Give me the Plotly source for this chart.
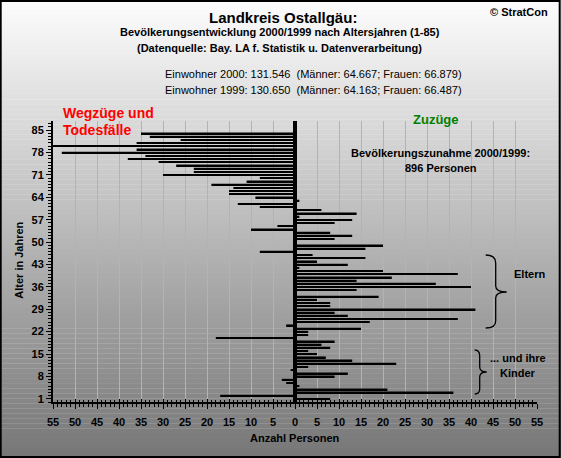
import plotly.graph_objects as go

# ---------------- data ----------------
ages = list(range(1, 86))
net_change = [
    8, -17, 36, 21, 1, -2, -3, 9, 12, -1,          # 1-10
    3, 23, 13, 7, 5, 3, 8, 6, 9, -18,              # 11-20
    3, 3, 15, -2, 17, 37, 12, 9, 41, 8,            # 21-30
    8, 5, 19, 0, 14, 40, 32, 14, 22, 37,           # 31-40
    20, 1, 12, 5, 16, 4, -8, 16, 20, 0,            # 41-50
    9, 13, 8, -10, -4, 9, 13, 1, 14, 6,            # 51-60
    -8, -13, 1, -9, -15, -15, -14, -19, -11, -8,   # 61-70
    -30, -23, -23, -27, -31, -38, -34, -53, -36, -56,  # 71-80
    -36, -26, -33, -35, 0,                         # 81-85
]
x_tick_vals = list(range(-55, 56, 5))
x_tick_text = [str(abs(v)) for v in x_tick_vals]

# ---------------- geometry helpers ----------------
W, H = 561, 458
L, R, T, B = 53.3, 537.3, 121.0, 402.0


def px(x):
    return (x - L) / (R - L)


def py(y):
    return (B - y) / (B - T)


FONT = "Liberation Sans, Arial, sans-serif"

fig = go.Figure()
fig.add_trace(go.Bar(
    x=net_change, y=ages, orientation="h",
    marker=dict(color="black", line=dict(width=0)),
    hoverinfo="x+y", showlegend=False,
))
# invisible helper trace so the overlay axis (crossing ticks) is drawn
fig.add_trace(go.Scatter(x=[None], y=[None], xaxis="x2", yaxis="y",
                         mode="markers", showlegend=False, hoverinfo="skip"))

shapes = []
# background gradient (white at top to grey at bottom)
n_bands = 92
for i in range(n_bands):
    y0 = i * H / n_bands
    y1 = (i + 1) * H / n_bands
    t = (y0 + y1) / 2 / H
    g = int(round(253 - (253 - 118) * t))
    col = f"rgb({g},{g},{g})"
    shapes.append(dict(type="rect", xref="paper", yref="paper",
                       x0=px(-2), x1=px(W + 2), y0=py(y1 + 0.3), y1=py(y0),
                       fillcolor=col, line=dict(width=0), layer="below"))
# outer border
shapes.append(dict(type="rect", xref="paper", yref="paper",
                   x0=px(1), x1=px(W - 1), y0=py(H - 1), y1=py(1),
                   line=dict(color="black", width=2), fillcolor="rgba(0,0,0,0)",
                   layer="above"))


def brace_path(pts):
    s = ""
    for cmd, coords in pts:
        s += cmd + " " + " ".join(f"{px(x):.5f},{py(y):.5f}" for x, y in coords) + " "
    return s.strip()


brace1 = brace_path([
    ("M", [(486, 255)]), ("Q", [(496, 255), (496, 263)]), ("L", [(496, 286)]),
    ("Q", [(496, 292), (507, 292)]), ("Q", [(496, 292), (496, 298)]),
    ("L", [(496, 321)]), ("Q", [(496, 328), (486, 328)]),
])
brace2 = brace_path([
    ("M", [(475, 350)]), ("Q", [(480, 350), (480, 356)]), ("L", [(480, 367)]),
    ("Q", [(480, 372), (487, 372)]), ("Q", [(480, 372), (480, 377)]),
    ("L", [(480, 389)]), ("Q", [(480, 394), (475, 394)]),
])
for p in (brace1, brace2):
    shapes.append(dict(type="path", xref="paper", yref="paper", path=p,
                       line=dict(color="black", width=1.3), layer="above"))


def ann(text, x, y, size=11, color="black", bold=True, xanchor="center",
        yanchor="middle", angle=0):
    return dict(text=text, x=px(x), y=py(y), xref="paper", yref="paper",
                showarrow=False, xanchor=xanchor, yanchor=yanchor,
                textangle=angle,
                font=dict(family=FONT, size=size, color=color,
                          weight="bold" if bold else "normal"))


annotations = [
    ann("Landkreis Ostallgäu:", 283, 17, size=15),
    ann("Bevölkerungsentwicklung 2000/1999 nach Altersjahren (1-85)", 280, 32),
    ann("(Datenquelle: Bay. LA f. Statistik u. Datenverarbeitung)", 280, 48),
    ann("Einwohner 2000: 131.546  (Männer: 64.667; Frauen: 66.879)", 163, 74,
        bold=False, xanchor="left"),
    ann("Einwohner 1999: 130.650  (Männer: 64.163; Frauen: 66.487)", 163, 90,
        bold=False, xanchor="left"),
    ann("© StratCon", 519, 12),
    ann("Wegzüge und", 61, 113, size=14, color="#FF0000", xanchor="left"),
    ann("Todesfälle", 61, 130, size=14, color="#FF0000", xanchor="left"),
    ann("Zuzüge", 436, 120, size=13, color="#008000"),
    ann("Bevölkerungszunahme 2000/1999:", 441, 153),
    ann("896 Personen", 441, 168),
    ann("Eltern", 530, 274),
    ann("... und ihre", 518, 358),
    ann("Kinder", 518, 373),
    ann("Anzahl Personen", 295, 438),
    ann("Alter in Jahren", 19, 260, angle=-90),
]

tickfont = dict(family=FONT, size=11, color="black", weight="bold")

fig.update_layout(
    width=W, height=H,
    margin=dict(l=L, r=W - R, t=T, b=H - B, pad=0),
    paper_bgcolor="white", plot_bgcolor="rgba(0,0,0,0)",
    bargap=0.5,
    shapes=shapes, annotations=annotations,
    xaxis=dict(
        range=[-55, 55], tickmode="array", tickvals=x_tick_vals, ticktext=x_tick_text,
        showgrid=True, gridcolor="#00FFFF", gridwidth=1.2,
        zeroline=True, zerolinecolor="black", zerolinewidth=4,
        showline=True, linecolor="black", linewidth=1.5,
        ticks="outside", ticklen=5, tickcolor="black", tickwidth=1,
        ticklabelstandoff=4,
        minor=dict(tickmode="linear", tick0=0, dtick=1, ticks="outside",
                   ticklen=3, tickcolor="black", showgrid=False),
        tickfont=tickfont, fixedrange=True,
    ),
    xaxis2=dict(
        range=[-55, 55], overlaying="x", anchor="y", side="bottom",
        tickmode="array", tickvals=x_tick_vals, showticklabels=False,
        showgrid=False, zeroline=False, showline=False,
        ticks="inside", ticklen=3, tickcolor="black", tickwidth=1,
        minor=dict(tickmode="linear", tick0=0, dtick=1, ticks="inside",
                   ticklen=2, tickcolor="black", showgrid=False),
        fixedrange=True,
    ),
    yaxis=dict(
        range=[0, 87.85], tickmode="linear", tick0=1, dtick=7,
        showgrid=False, zeroline=False,
        showline=True, linecolor="black", linewidth=2,
        ticks="outside", ticklen=5, tickcolor="black", tickwidth=1,
        minor=dict(tickmode="linear", tick0=0, dtick=1, ticks="outside",
                   ticklen=3, tickcolor="black", showgrid=False),
        tickfont=tickfont, fixedrange=True,
    ),
)

fig.write_html("out.html")
